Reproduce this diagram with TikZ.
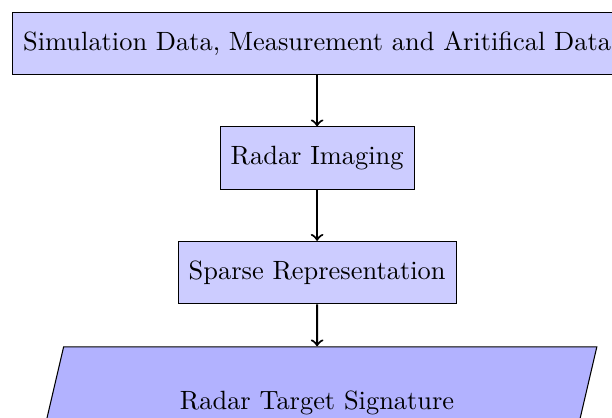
\documentclass[tikz,border=0pt]{standalone}
\usetikzlibrary{positioning,shapes.geometric}

\begin{document}
\begin{tikzpicture}[
    b/.style={
        rectangle, draw=black, fill=blue!20,
        minimum height=0.83cm, inner xsep=4pt
    },
    p/.style={
        trapezium, trapezium left angle=70, trapezium right angle=110,
        trapezium stretches=true,
        draw=black, fill=blue!30,
        minimum width=212pt, minimum height=1.5cm
    },
    a/.style={->, thick}
]
\useasboundingbox (-120.1pt,-141.5pt) rectangle (111.7pt,16.5pt);
\clip (-120.1pt,-141.5pt) rectangle (111.7pt,16.5pt);

\node [b] (data) {Simulation Data, Measurement and Aritifical Data};
\node [b,below=0.68cm of data] (imaging) {Radar Imaging};
\node [b,below=0.68cm of imaging] (sparse) {Sparse Representation};
\node [p,below=0.56cm of sparse] (signature) {Radar Target Signature};

\draw (data) edge [a] (imaging);
\draw (imaging) edge [a] (sparse);
\draw (sparse) edge [a] (signature);

\end{tikzpicture}
\end{document}
